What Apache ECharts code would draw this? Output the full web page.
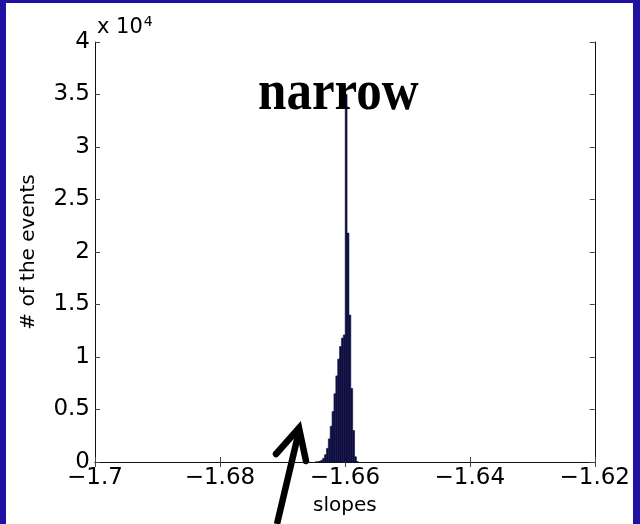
<!DOCTYPE html>
<html>
<head>
<meta charset="utf-8">
<script src="https://cdn.jsdelivr.net/npm/echarts@6/dist/echarts.min.js"></script>
<style>
html,body{margin:0;padding:0;width:640px;height:524px;background:#1f12a3;overflow:hidden;}
#chart{position:absolute;left:6px;top:3px;width:627px;height:521px;background:#ffffff;}
</style>
</head>
<body>
<div id="chart"></div>
<script>
// Histogram of slopes (bin centres and counts)
const binCenters = [-1.6646,-1.6643,-1.6640,-1.6637,-1.6634,-1.6631,-1.6628,-1.6625,-1.6622,-1.6619,-1.6616,-1.6613,-1.6610,-1.6607,-1.6604,-1.6601,-1.6598,-1.6595,-1.6592,-1.6589,-1.6586,-1.6583,-1.6580];
const counts     = [10,30,70,160,350,700,1300,2200,3400,4800,6500,8200,9800,11000,11800,12100,35000,21800,14000,7000,3000,500,40];
const binWidth = 0.0003;
const xTicks = [-1.7,-1.68,-1.66,-1.64,-1.62];
const yTicks = [0,5000,10000,15000,20000,25000,30000,35000,40000];
const xName = 'slopes';
const yName = '# of the events';
const annotation = 'narrow';

const chart = echarts.init(document.getElementById('chart'));
const FONT = 'DejaVu Sans';
const minus = s => String(s).replace('-', '\u2212');

const axisCommon = {
  axisLine:{show:true,lineStyle:{color:'#111',width:1}},
  axisTick:{show:true,inside:true,length:5,lineStyle:{color:'#444',width:1}},
  splitLine:{show:false}
};

chart.setOption({
  animation:false,
  grid:{left:89,right:31,top:39,bottom:62,containLabel:false},
  xAxis:[
    Object.assign({type:'value',min:xTicks[0],max:xTicks[xTicks.length-1],interval:0.02,position:'bottom',
      name:xName,nameLocation:'middle',nameGap:34,
      nameTextStyle:{fontFamily:FONT,fontSize:20,color:'#000'},
      axisLabel:{show:true,margin:5,fontFamily:FONT,fontSize:23,color:'#000',formatter:v=>minus(+v.toFixed(2))}},axisCommon),
    Object.assign({type:'value',min:xTicks[0],max:xTicks[xTicks.length-1],interval:0.02,position:'top',
      axisLabel:{show:false}},axisCommon)
  ],
  yAxis:[
    Object.assign({type:'value',min:yTicks[0],max:yTicks[yTicks.length-1],interval:5000,position:'left',
      name:yName,nameLocation:'middle',nameGap:56,nameRotate:90,
      nameTextStyle:{fontFamily:FONT,fontSize:20,color:'#000'},
      axisLabel:{show:true,margin:5,fontFamily:FONT,fontSize:23,color:'#000',formatter:v=>String(v/10000)}},axisCommon),
    Object.assign({type:'value',min:yTicks[0],max:yTicks[yTicks.length-1],interval:5000,position:'right',
      axisLabel:{show:false}},axisCommon)
  ],
  series:[{
    type:'custom',
    xAxisIndex:0,yAxisIndex:0,
    data:binCenters.map((c,i)=>[c,counts[i]]),
    renderItem:function(params,api){
      const c=api.value(0), v=api.value(1);
      const p0=api.coord([c-binWidth/2,v]);
      const p1=api.coord([c+binWidth/2,0]);
      return {type:'rect',shape:{x:p0[0],y:p0[1],width:p1[0]-p0[0],height:p1[1]-p0[1]},
        style:{fill:'#0a0a3a',stroke:'#14144a',lineWidth:0.6}};
    },
    z:2
  }],
  graphic:[
    {type:'text',left:91,top:12,z:10,style:{
      text:'x 10{s|4}',fontFamily:FONT,fontSize:21,fill:'#000',
      rich:{s:{fontFamily:FONT,fontSize:14,verticalAlign:'top',padding:[0,0,12,1]}}}},
    {type:'text',x:252,y:62,z:10,scaleX:0.88,style:{
      text:annotation,fontFamily:'Liberation Serif',fontWeight:'bold',fontSize:58,fill:'#000'}},
    {type:'group',z:20,children:[
      {type:'polyline',shape:{points:[[271,521],[293,428]]},style:{stroke:'#000',lineWidth:6.5,fill:null}},
      {type:'polyline',shape:{points:[[270,451],[293,425],[300,458]]},style:{stroke:'#000',lineWidth:6.5,fill:null,lineJoin:'miter',lineCap:'round'}}
    ]}
  ]
});
</script>
</body>
</html>
